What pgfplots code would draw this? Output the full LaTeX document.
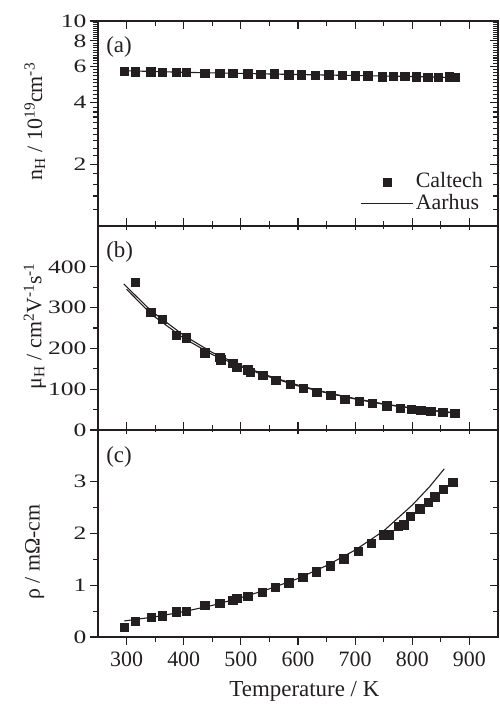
\documentclass[border=0pt]{standalone}
\usepackage{fontspec}
\setmainfont{Liberation Serif}
\newfontfamily\ywide[FakeStretch=1.35]{Liberation Serif}
\usepackage{pgfplots}
\pgfplotsset{compat=1.18}
\definecolor{ink}{RGB}{35,31,32}

\pgfplotstableread{
T v
296 5.68
315 5.67
342 5.66
362 5.64
387 5.62
404 5.61
437 5.56
463 5.55
486 5.58
512 5.53
535 5.50
558 5.54
584 5.48
606 5.46
630 5.44
654 5.46
677 5.45
700 5.41
722 5.41
747 5.35
767 5.37
787 5.37
807 5.35
827 5.33
845 5.33
865 5.36
875 5.31
}\nCal
\pgfplotstableread{
T v
296 5.72
400 5.62
500 5.55
600 5.48
700 5.42
800 5.36
870 5.30
}\nAar
\pgfplotstableread{
T v
315 362
342 288
362 272
387 233
404 226
437 189
463 179
465 172
486 164
493 154
512 148
516 141
538 134
561 122
586 112
609 102
633 93
657 85
682 76
707 70
730 65
755 60
779 54
798 51
815 49
832 46
853 43
874 41
}\mCal
\pgfplotstableread{
T v
295 358
343 292
400 232
450 190
500 158
550 132
600 110
650 92
700 77
750 64
800 54
850 46
870 43
}\mAarA
\pgfplotstableread{
T v
300 345
343 284
400 225
450 185
500 155
550 130
600 108
650 91
700 76
750 63
800 53
850 45
870 42
}\mAarB
\pgfplotstableread{
T v
296 0.19
315 0.30
343 0.38
362 0.41
387 0.49
404 0.50
437 0.61
463 0.65
486 0.71
493 0.75
512 0.79
537 0.87
560 0.96
584 1.05
608 1.16
632 1.26
656 1.38
680 1.51
705 1.66
728 1.81
750 1.98
760 1.98
775 2.14
785 2.17
796 2.33
813 2.48
828 2.61
839 2.71
854 2.86
871 2.99
}\rCal
\pgfplotstableread{
T v
296 0.31
350 0.39
400 0.49
450 0.61
500 0.76
550 0.93
600 1.13
650 1.38
700 1.68
750 2.05
800 2.55
830 2.90
856 3.25
}\rAar

\pgfplotsset{
  base/.style={
    scale only axis, width=400bp,
    xmin=250, xmax=950,
    xtick={300,400,...,900}, minor x tick num=1,
    axis line style={ink, line width=1.2bp},
    every tick/.style={ink, line width=1.1bp},
    major tick length=8bp, minor tick length=5bp,
    /pgf/number format/assume math mode=true,
  },
  panel/.style={
    base,
    ytick pos=left, xtick pos=both,
    ytick align=outside,
    x tick label style={font=\fontsize{22}{22}\selectfont, text=ink, yshift=-3bp},
    y tick label style={font=\ywide\fontsize{19}{19}\selectfont, text=ink},
    label style={font=\fontsize{22}{26}\selectfont, text=ink},
  },
  rside/.style={
    base,
    axis x line=none, axis y line*=right,
    ytick align=inside, ytick pos=right, yticklabels={},
  },
  cal/.style={only marks, mark=square*, mark size=4.2bp, ink, mark options={fill=ink, draw=ink}},
  aar/.style={no marks, ink, line width=1.1bp},
}

\begin{document}
\begin{tikzpicture}
\useasboundingbox (0,0) rectangle (500bp,708bp);

% (a)
\begin{axis}[panel, at={(98bp,482bp)}, anchor=south west, height=205bp,
  ymode=log, ymin=1, ymax=10,
  ytick={2,4,6,8,10}, yticklabels={2,4,6,8,10},
  minor ytick={1.2,1.4,...,9.9},
  xtick align=inside, xticklabels={},
  ylabel={n\textsubscript{H} / 10\textsuperscript{19}cm\textsuperscript{-3}},
  ylabel style={at={(axis description cs:-0.158,0.51)}, anchor=center},
  legend style={draw=none, fill=none, font=\fontsize{22}{22}\selectfont, text=ink,
    at={(0.97,0.06)}, anchor=south east, row sep=3bp,
    cells={anchor=west, text height=13bp, text depth=3bp},
    inner sep=1bp},
]
\addplot[cal, legend image code/.code={\path[draw=none,fill=none] (0bp,-4bp) rectangle (52bp,4bp);
    \fill[ink] (22bp,-4bp) rectangle (30bp,4bp);}] table[x=T,y=v] {\nCal};
\addlegendentry{Caltech}
\addplot[aar, legend image code/.code={\path[draw=none,fill=none] (0bp,-4bp) rectangle (52bp,4bp);
    \draw[ink, line width=1.1bp] (0bp,0bp) -- (52bp,0bp);}] table[x=T,y=v] {\nAar};
\addlegendentry{Aarhus}
\node[anchor=west, font=\fontsize{23}{23}\selectfont, text=ink] at (rel axis cs:0.012,0.875) {(a)};
\end{axis}
\begin{axis}[rside, at={(98bp,482bp)}, anchor=south west, height=205bp,
  ymode=log, ymin=1, ymax=10, ytick={2,4,6,8,10}, minor ytick={1.2,1.4,...,9.9}]
\end{axis}

% (b)
\begin{axis}[panel, at={(98bp,278bp)}, anchor=south west, height=204bp,
  ymin=0, ymax=500, ytick={0,100,...,400}, minor y tick num=1,
  xtick align=center, xticklabels={},
  ylabel={μ\textsubscript{H} / cm\textsuperscript{2}V\textsuperscript{-1}s\textsuperscript{-1}},
  ylabel style={at={(axis description cs:-0.158,0.51)}, anchor=center},
]
\addplot[aar] table[x=T,y=v] {\mAarA};
\addplot[aar] table[x=T,y=v] {\mAarB};
\addplot[cal] table[x=T,y=v] {\mCal};
\node[anchor=west, font=\fontsize{23}{23}\selectfont, text=ink] at (rel axis cs:0.012,0.875) {(b)};
\end{axis}
\begin{axis}[rside, at={(98bp,278bp)}, anchor=south west, height=204bp,
  ymin=0, ymax=500, ytick={0,100,...,400}, minor y tick num=1]
\end{axis}

% (c)
\begin{axis}[panel, at={(98bp,71bp)}, anchor=south west, height=207bp,
  ymin=0, ymax=4, ytick={0,1,2,3}, minor y tick num=1,
  xtick align=outside,
  xlabel={Temperature / K},
  xlabel style={font=\fontsize{23}{26}\selectfont, at={(axis description cs:0.516,-0.265)}, anchor=center},
  ylabel={ρ / mΩ-cm},
  ylabel style={at={(axis description cs:-0.158,0.41)}, anchor=center},
]
\addplot[aar] table[x=T,y=v] {\rAar};
\addplot[cal] table[x=T,y=v] {\rCal};
\node[anchor=west, font=\fontsize{23}{23}\selectfont, text=ink] at (rel axis cs:0.012,0.87) {(c)};
\end{axis}
\begin{axis}[rside, at={(98bp,71bp)}, anchor=south west, height=207bp,
  ymin=0, ymax=4, ytick={0,1,2,3}, minor y tick num=1]
\end{axis}
\end{tikzpicture}
\end{document}
